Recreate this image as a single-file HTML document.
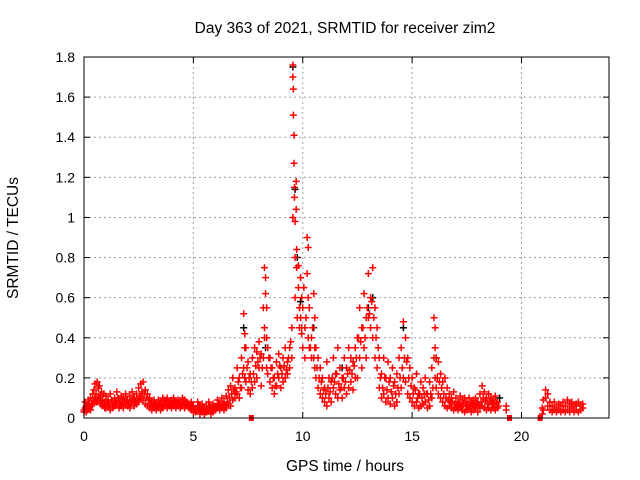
<!DOCTYPE html>
<html><head><meta charset="utf-8"><style>
body{margin:0;background:#fff}
svg{display:block;font-family:"Liberation Sans",sans-serif}
</style></head><body>
<svg id="chart" width="640" height="480">
<rect width="640" height="480" fill="#fff"/>
<text x="345" y="33" font-size="15.5" text-anchor="middle">Day 363 of 2021, SRMTID for receiver zim2</text>
<text x="345" y="471" font-size="15.5" text-anchor="middle">GPS time / hours</text>
<text x="18" y="238" font-size="15.5" text-anchor="middle" transform="rotate(-90 18 238)">SRMTID / TECUs</text>
<g id="grid"></g>
<g id="ticks"></g>
<g id="marks"></g>
<rect x="84" y="57" width="525" height="361" fill="none" stroke="#000" stroke-width="1"/>
</svg>
<script>
const xTicks=[0,5,10,15,20];
const yTicks=[0,0.2,0.4,0.6,0.8,1,1.2,1.4,1.6,1.8];
const yTickLabels=["0","0.2","0.4","0.6","0.8","1","1.2","1.4","1.6","1.8"];
const hours=[0,0.05,0.1,0.15,0.2,0.25,0.3,0.35,0.4,0.45,0.5,0.55,0.6,0.65,0.7,0.75,0.8,0.85,0.9,0.95,
1.0,1.1,1.2,1.3,1.4,1.5,1.6,1.7,1.8,1.9,2.0,2.1,2.2,2.3,2.4,2.5,2.6,2.7,2.8,2.9,3.0,3.1,3.2,3.3,3.4,3.5,3.6,3.7,3.8,3.9,4.0,4.1,4.2,4.3,4.4,4.5,4.6,4.7,4.8,4.9,
5.0,5.1,5.2,5.3,5.4,5.5,5.6,5.7,5.8,5.9,6.0,6.1,6.2,6.3,6.4,6.5,6.6,6.7,6.8,6.9,7.0,7.1,7.2,7.3,7.35,7.4,7.5,7.6,7.7,7.8,7.9,8.0,8.1,8.2,8.25,8.3,8.35,8.4,8.5,8.6,8.7,8.8,8.9,9.0,9.1,9.2,9.3,9.4,9.5,9.55,9.57,9.6,9.62,9.65,9.7,9.72,9.8,9.85,9.9,9.95,10.0,10.1,10.2,10.25,10.3,10.4,10.5,10.55,10.6,10.7,10.8,10.9,11.0,11.1,11.2,11.3,11.4,11.5,11.6,11.7,11.8,11.9,12.0,12.1,12.2,12.3,12.4,12.5,12.6,12.7,12.8,12.9,13.0,13.1,13.2,13.3,13.4,13.5,13.6,13.7,13.8,13.9,14.0,14.1,14.2,14.3,14.4,14.5,14.6,14.7,14.8,14.9,15.0,15.1,15.2,15.3,15.4,15.5,15.6,15.7,15.8,15.9,16.0,16.05,16.1,16.2,16.3,16.4,16.5,16.6,16.7,16.8,16.9,17.0,17.1,17.2,17.3,17.4,17.5,17.6,17.7,17.8,17.9,18.0,18.1,18.2,18.3,18.4,18.5,18.6,18.7,18.8,18.9,19.3,
20.95,21.0,21.1,21.2,21.3,21.4,21.5,21.6,21.7,21.8,21.9,22.0,22.1,22.2,22.3,22.4,22.5,22.6,22.7,22.8];
const upper=[0.04,0.08,0.06,0.06,0.09,0.07,0.1,0.07,0.12,0.14,0.17,0.12,0.18,0.15,0.16,0.11,0.13,0.09,0.12,0.08,
.11,.09,.12,.08,.1,.13,.09,.11,.1,.12,.09,.11,.13,.1,.12,.15,.17,.18,.14,.12,.1,.08,.09,.07,.09,.08,.1,.09,.1,.08,.09,.1,.08,.09,.08,.1,.09,.08,.07,.08,
.06,.05,.08,.06,.07,.05,.06,.08,.05,.07,.06,.09,.07,.1,.08,.11,.14,.16,.2,.15,.25,.2,.3,.52,.42,.35,.28,.22,.3,.35,.33,.38,.32,.55,.75,.7,.4,.35,.3,.25,.2,.28,.32,.25,.3,.35,.28,.35,.45,1.76,1.64,1.41,1.15,0.98,1.18,0.84,0.76,0.55,0.7,0.6,0.55,0.45,0.9,0.85,0.55,0.4,0.62,0.5,0.35,0.3,0.25,0.2,0.15,0.28,0.2,0.18,0.3,0.22,0.35,0.25,0.2,0.3,0.25,0.35,0.3,0.28,0.35,0.4,0.55,0.45,0.62,0.5,0.72,0.6,0.75,0.55,0.45,0.3,0.22,0.3,0.2,0.28,0.2,0.25,0.18,0.22,0.3,0.35,0.48,0.4,0.3,0.25,0.2,0.15,0.22,0.12,0.18,0.15,0.2,0.12,0.18,0.25,0.5,0.45,0.3,0.28,0.22,0.18,0.2,0.15,0.12,0.1,0.13,0.1,0.08,0.11,0.09,0.1,0.08,0.1,0.08,0.09,0.1,0.08,0.12,0.16,0.13,0.1,0.12,0.1,0.09,0.11,0.08,0.06,
0.05,0.09,0.14,0.12,0.08,0.06,0.08,0.05,0.07,0.06,0.08,0.06,0.09,0.07,0.08,0.06,0.07,0.08,0.06,0.07];
const lower=[0.03,0.05,0.03,0.04,0.05,0.05,0.04,0.06,0.07,0.09,0.1,0.08,0.08,0.1,0.1,0.07,0.07,0.06,0.07,0.05,
.05,.06,.04,.05,.06,.07,.05,.06,.05,.07,.06,.05,.08,.06,.07,.08,.1,.09,.07,.06,.05,.04,.05,.04,.05,.04,.05,.06,.05,.06,.05,.06,.05,.06,.05,.06,.05,.06,.05,.04,
.03,.03,.04,.02,.03,.02,.03,.04,.02,.03,.04,.05,.04,.05,.04,.05,.07,.06,.09,.1,.12,.1,.15,.25,.2,.18,.14,.12,.15,.18,.2,.25,.16,.3,.45,.62,.25,.22,.18,.15,.12,.16,.2,.15,.18,.2,.22,.25,.3,1.7,1.51,1.27,1.1,0.8,1.04,0.75,0.65,0.45,0.5,0.42,0.35,0.3,0.72,0.6,0.35,0.3,0.3,0.25,0.2,0.15,0.12,0.1,0.08,0.06,0.1,0.08,0.15,0.12,0.1,0.14,0.1,0.15,0.12,0.15,0.18,0.14,0.2,0.2,0.3,0.25,0.35,0.3,0.5,0.45,0.4,0.3,0.25,0.15,0.1,0.12,0.08,0.1,0.07,0.1,0.06,0.08,0.12,0.15,0.2,0.18,0.12,0.1,0.08,0.06,0.08,0.05,0.06,0.07,0.08,0.05,0.06,0.1,0.3,0.2,0.15,0.12,0.1,0.08,0.06,0.05,0.06,0.05,0.04,0.05,0.04,0.05,0.04,0.03,0.04,0.05,0.03,0.04,0.05,0.03,0.05,0.06,0.05,0.04,0.05,0.04,0.05,0.04,0.05,0.04,
0.02,0.04,0.1,0.06,0.04,0.03,0.04,0.03,0.04,0.03,0.04,0.03,0.04,0.03,0.05,0.03,0.04,0.03,0.04,0.05];
// extra samples read at the half-step between the hours above (start hour 1.05, 0.1 h spacing)
const midStartHour=1.05;
const midValues=[.08,.07,.09,.06,.08,.1,.07,.08,.08,.09,.07,.08,.1,.08,.09,.11,.13,.12,.1,.09,.07,.06,.07,.06,.07,.06,.07,.08,.07,.07,.07,.08,.07,.07,.06,.08,.07,.07,.06,.06,
.04,.04,.06,.04,.05,.03,.04,.06,.04,.05,.05,.07,.06,.07,.06,.08,.1,.12,.14,.13,
.18,.15,.22,.35,.25,.2,.18,.22,.26,.28,.3,.25,.4,.55,.3,.25,.2,.16,.22,.26,
.22,.26,.24,.3,.38,1.0,.6,.5,.55,.45,.65,.5,.4,.35,.45,.35,.25,.2,.18,.14,
.12,.15,.13,.2,.18,.22,.17,.15,.2,.18,.22,.24,.22,.26,.3,.4,.38,.45,.4,.55,
.52,.58,.5,.4,.35,.2,.15,.2,.14,.18,.13,.16,.12,.15,.2,.25,.3,.28,.2,.16,
.12,.14,.1,.12,.1,.12,.12,.09,.12,.15,.35,.2,.18,.15,.12,.1,.09,.08,.08,.07,
.06,.07,.06,.07,.06,.06,.06,.07,.06,.07,.06,.08,.1,.09,.07,.08,.07,.07,.07,.06];
const blackHours=[7.3,8.3,9.55,9.65,9.75,9.9,10.3,10.5,11.8,13.0,13.2,14.6,16.1,19.0];
const blackValues=[0.45,0.35,1.75,1.14,0.8,0.58,0.55,0.45,0.25,0.55,0.6,0.45,0.3,0.1];
const zeroHours=[7.65,19.45,20.85];
const zeroValues=[0,0,0];

const X0=84,X1=609,Y0=418,Y1=57;
const xs=h=>X0+(h/24)*(X1-X0);
const ys=v=>Y0-(v/1.8)*(Y0-Y1);
const NS="http://www.w3.org/2000/svg";
function mk(tag,attrs,parent){const e=document.createElementNS(NS,tag);for(const k in attrs)e.setAttribute(k,attrs[k]);parent.appendChild(e);return e;}
const grid=document.getElementById('grid'),ticks=document.getElementById('ticks'),marks=document.getElementById('marks');
yTicks.forEach((v,i)=>{
  const y=ys(v);
  if(i>0&&i<yTicks.length-1){const g=mk('line',{x1:X0,x2:X1,y1:y,y2:y,stroke:'#a0a0a0','stroke-dasharray':'2,3'},grid);
  
  }
  mk('line',{x1:X0,x2:X0+6,y1:y,y2:y,stroke:'#000'},ticks);
  mk('line',{x1:X1-6,x2:X1,y1:y,y2:y,stroke:'#000'},ticks);
  const t=mk('text',{x:X0-9,y:y+5,'font-size':14,'text-anchor':'end'},ticks);
  t.textContent=yTickLabels[i];
  
  
});
xTicks.forEach(h=>{
  const x=xs(h);
  if(h>0){const g=mk('line',{x1:x,x2:x,y1:Y1,y2:Y0,stroke:'#a0a0a0','stroke-dasharray':'2,3'},grid);
  
  }
  mk('line',{x1:x,x2:x,y1:Y0,y2:Y0-6,stroke:'#000'},ticks);
  mk('line',{x1:x,x2:x,y1:Y1,y2:Y1+6,stroke:'#000'},ticks);
  const t=mk('text',{x:x,y:Y0+23,'font-size':14,'text-anchor':'middle'},ticks);
  t.textContent=String(h);
  
  
});
function plus(h,v,color){
  const x=xs(h),y=ys(v);
  const p=mk('path',{d:`M${x-3.5},${y}H${x+3.5}M${x},${y-3.5}V${y+3.5}`,stroke:color,'stroke-width':1.5,fill:'none'},marks);
  
  
}
blackHours.forEach((h,i)=>plus(h,blackValues[i],'#000'));
hours.forEach((h,i)=>{plus(h,upper[i],'#f00');plus(h,lower[i],'#f00');});
midValues.forEach((v,i)=>plus(midStartHour+0.1*i,v,'#f00'));
zeroHours.forEach((h,i)=>{
  const r=mk('rect',{x:xs(h)-2.5,y:ys(zeroValues[i])-3,width:5,height:6,fill:'#f00'},marks);
  
  
});
</script>
</body></html>
